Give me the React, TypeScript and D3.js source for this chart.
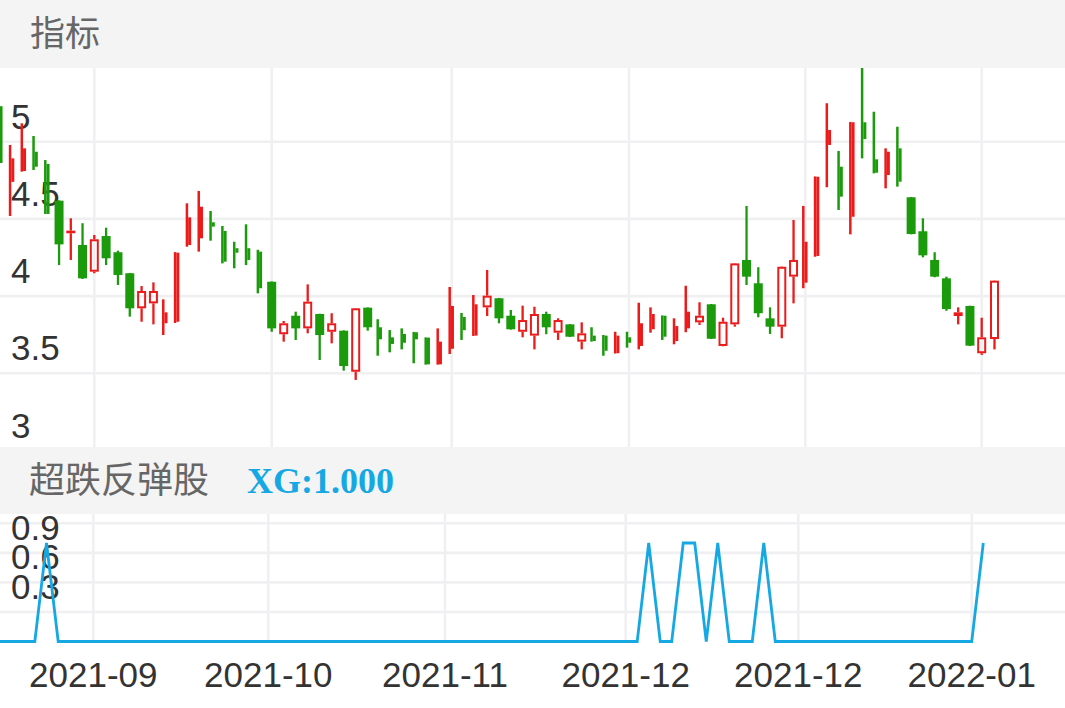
import React from "react";
import * as d3 from "d3";

// ---- data ----
const opens = [5.23,4.74,4.81,4.935,4.856,4.618,4.407,4.331,4.158,4.389,4.284,4.148,3.921,3.953,3.824,3.834,4.331,4.374,4.478,4.422,4.31,4.31,4.288,4.093,3.753,3.873,3.791,3.884,3.769,3.776,3.51,3.925,3.798,3.733,3.755,3.766,3.731,3.558,3.659,3.865,3.744,3.927,3.986,3.873,3.769,3.744,3.884,3.763,3.817,3.705,3.744,3.744,3.63,3.733,3.677,3.785,3.873,3.709,3.791,3.83,3.947,3.677,3.817,4.234,4.083,3.856,3.802,4.126,4.087,4.26,4.979,4.838,4.514,5.126,4.886,4.784,4.957,4.64,4.42,4.234,4.115,3.871,3.936,3.63,3.722];
const closes = [4.862,4.892,4.957,4.838,4.532,4.335,4.424,4.115,4.368,4.245,4.137,3.921,4.033,4.033,3.895,4.281,4.51,4.579,4.45,4.223,4.281,4.234,4.051,3.791,3.824,3.791,3.964,3.748,3.824,3.547,3.921,3.798,3.72,3.69,3.698,3.72,3.558,3.705,3.936,3.779,3.947,4.003,3.856,3.785,3.845,3.884,3.798,3.845,3.737,3.759,3.709,3.646,3.744,3.698,3.824,3.884,3.737,3.806,3.899,3.873,3.724,3.834,4.212,4.126,3.889,3.802,4.19,4.234,4.352,4.773,5.076,4.644,5.126,5.017,4.799,4.935,4.741,4.402,4.264,4.126,3.916,3.895,3.679,3.733,4.1];
const highs = [5.25,4.979,5.119,5.037,4.881,4.62,4.504,4.472,4.396,4.443,4.294,4.15,4.065,4.089,3.979,4.285,4.601,4.681,4.551,4.454,4.352,4.465,4.3,4.095,3.839,3.899,4.076,3.886,3.889,3.778,3.923,3.927,3.85,3.78,3.791,3.768,3.733,3.791,4.059,3.891,4.007,4.169,3.988,3.91,3.938,3.931,3.899,3.856,3.819,3.83,3.798,3.748,3.769,3.769,3.957,3.927,3.875,3.856,4.067,3.96,3.949,3.86,4.214,4.584,4.187,3.927,4.192,4.493,4.584,4.775,5.249,4.94,5.128,5.5,5.194,4.957,5.097,4.642,4.504,4.284,4.126,3.927,3.938,3.86,4.102];
const lows = [4.85,4.519,4.806,4.817,4.532,4.201,4.234,4.111,4.148,4.201,4.072,3.867,3.834,3.817,3.748,3.826,4.32,4.288,4.359,4.212,4.18,4.201,4.018,3.769,3.705,3.716,3.759,3.586,3.694,3.517,3.457,3.776,3.614,3.636,3.655,3.565,3.556,3.556,3.625,3.716,3.742,3.871,3.824,3.783,3.733,3.655,3.753,3.716,3.735,3.655,3.705,3.614,3.628,3.666,3.655,3.763,3.716,3.688,3.766,3.813,3.722,3.675,3.802,4.072,3.863,3.755,3.727,3.953,4.051,4.255,4.705,4.558,4.4,4.892,4.795,4.698,4.709,4.4,4.251,4.122,3.905,3.817,3.677,3.619,3.655];
const xgValues = [0,0,0,0,1,0,0,0,0,0,0,0,0,0,0,0,0,0,0,0,0,0,0,0,0,0,0,0,0,0,0,0,0,0,0,0,0,0,0,0,0,0,0,0,0,0,0,0,0,0,0,0,0,0,0,1,0,0,1,1,0,1,0,0,0,1,0,0,0,0,0,0,0,0,0,0,0,0,0,0,0,0,0,0,1];
const priceLabels = [3, 3.5, 4, 4.5, 5];
const priceGrid = [3.5, 4, 4.5, 5];
const xgLabels = [0.3, 0.6, 0.9];
const xgGrid = [0.3, 0.6, 0.9, 1.2];
const monthTickIndex = [8, 23, 38, 53, 68, 83];
const monthTickLabels = ["2021-09", "2021-10", "2021-11", "2021-12", "2021-12", "2022-01"];

const W = 1065;
const H = 708;
const RED = "#ec1b1b";
const GREEN = "#1b9b0c";
const BLUE = "#15a8e3";
const GRID = "#f0f0f2";
const BAND = "#f4f4f4";
const NUM_FONT = "'Liberation Sans', Arial, Helvetica, sans-serif";
const CJK_FONT = "'Noto Sans CJK SC', 'Noto Sans', sans-serif";

export default function App() {
  const n = closes.length;
  // piecewise-linear index scales (the source snaps bars to pixels unevenly)
  const xTop = d3
    .scaleLinear()
    .domain([0, 8, 23, 38, 53, 68, 83, 84])
    .range([0.3, 94.3, 271.7, 451.7, 629, 805.3, 981.7, 994.5]);
  const xBot = d3
    .scaleLinear()
    .domain([0, 8, 23, 38, 53, 68, 84])
    .range([-0.3, 93.3, 268.3, 445, 625.7, 798.3, 983.3]);
  const yTop = d3.scaleLinear().domain([3, 5.5]).range([450.5, 64.5]);
  const yBot = d3.scaleLinear().domain([0, 1.2]).range([641.5, 523.3]);

  const line = d3
    .line<number>()
    .x((_, i) => xBot(i))
    .y((d) => yBot(d));

  const candles = d3.range(n).map((i) => {
    const c = xTop(i);
    const o = opens[i], cl = closes[i], hi = highs[i], lo = lows[i];
    const up = cl >= o;
    const color = up ? RED : GREEN;
    const yH = yTop(hi), yL = yTop(lo);
    const yT = yTop(Math.max(o, cl)), yB = yTop(Math.min(o, cl));
    const bodyH = Math.max(yB - yT, 1);
    const narrow = Math.floor((i + 4) / 9) % 2 === 0;
    if (narrow) {
      return (
        <g key={i} fill={color}>
          <rect x={c - 3.25} y={yH} width={2.5} height={Math.max(yL - yH, 1)} />
          <rect x={c - 0.75} y={yT} width={3} height={bodyH} />
        </g>
      );
    }
    if (up) {
      return (
        <g key={i}>
          <rect x={c - 1.15} y={yH} width={2.3} height={Math.max(yT - yH, 0)} fill={color} />
          <rect x={c - 1.15} y={yB} width={2.3} height={Math.max(yL - yB, 0)} fill={color} />
          <rect
            x={c - 3.5}
            y={yT + 1}
            width={7}
            height={Math.max(bodyH - 2, 0.6)}
            fill="none"
            stroke={color}
            strokeWidth={2}
          />
        </g>
      );
    }
    return (
      <g key={i} fill={color}>
        <rect x={c - 1.15} y={yH} width={2.3} height={Math.max(yL - yH, 1)} />
        <rect x={c - 4.5} y={yT} width={9} height={bodyH} />
      </g>
    );
  });

  return (
    <svg
      width={W}
      height={H}
      style={{ position: "absolute", left: 0, top: 0, background: "#fff" }}
    >
      <defs>
        <clipPath id="topClip">
          <rect x={0} y={68} width={W} height={379} />
        </clipPath>
      </defs>

      {/* top chart grid */}
      {monthTickIndex.map((t, k) => (
        <line key={"vt" + k} x1={xTop(t)} x2={xTop(t)} y1={68} y2={447} stroke={GRID} strokeWidth={2.6} />
      ))}
      {priceGrid.map((v, k) => (
        <line key={"ht" + k} x1={0} x2={W} y1={yTop(v)} y2={yTop(v)} stroke={GRID} strokeWidth={2.6} />
      ))}
      {priceLabels.map((v, k) => (
        <text key={"pl" + k} x={11} y={yTop(v) - 13} fontFamily={NUM_FONT} fontSize={35} fill="#333">
          {String(v)}
        </text>
      ))}
      <g clipPath="url(#topClip)">{candles}</g>

      {/* header bands */}
      <rect x={0} y={0} width={W} height={68} fill={BAND} />
      <text x={30} y={46} fontFamily={CJK_FONT} fontSize={35} fill="#666">
        指标
      </text>
      <rect x={0} y={447} width={W} height={67} fill={BAND} />
      <text x={29} y={493} fontFamily={CJK_FONT} fontSize={36} fill="#666">
        超跌反弹股
      </text>
      <text
        x={247}
        y={493}
        fontFamily="'Liberation Serif', 'Times New Roman', serif"
        fontWeight="bold"
        fontSize={36}
        fill={BLUE}
      >
        XG:1.000
      </text>

      {/* bottom chart */}
      {monthTickIndex.map((t, k) => (
        <line key={"vb" + k} x1={xBot(t)} x2={xBot(t)} y1={514} y2={642} stroke={GRID} strokeWidth={2.6} />
      ))}
      {xgGrid.map((v, k) => (
        <line key={"hb" + k} x1={0} x2={W} y1={yBot(v)} y2={yBot(v)} stroke={GRID} strokeWidth={2.6} />
      ))}
      {xgLabels.map((v, k) => (
        <text key={"xl" + k} x={11} y={yBot(v) - 13} fontFamily={NUM_FONT} fontSize={35} fill="#333">
          {String(v)}
        </text>
      ))}
      <path d={line(xgValues) || ""} fill="none" stroke={BLUE} strokeWidth={2.8} strokeLinejoin="miter" />

      {/* x axis labels */}
      {monthTickIndex.map((t, k) => (
        <text
          key={"ml" + k}
          x={xBot(t)}
          y={687}
          textAnchor="middle"
          fontFamily={NUM_FONT}
          fontSize={35}
          fill="#333"
        >
          {monthTickLabels[k]}
        </text>
      ))}
    </svg>
  );
}
